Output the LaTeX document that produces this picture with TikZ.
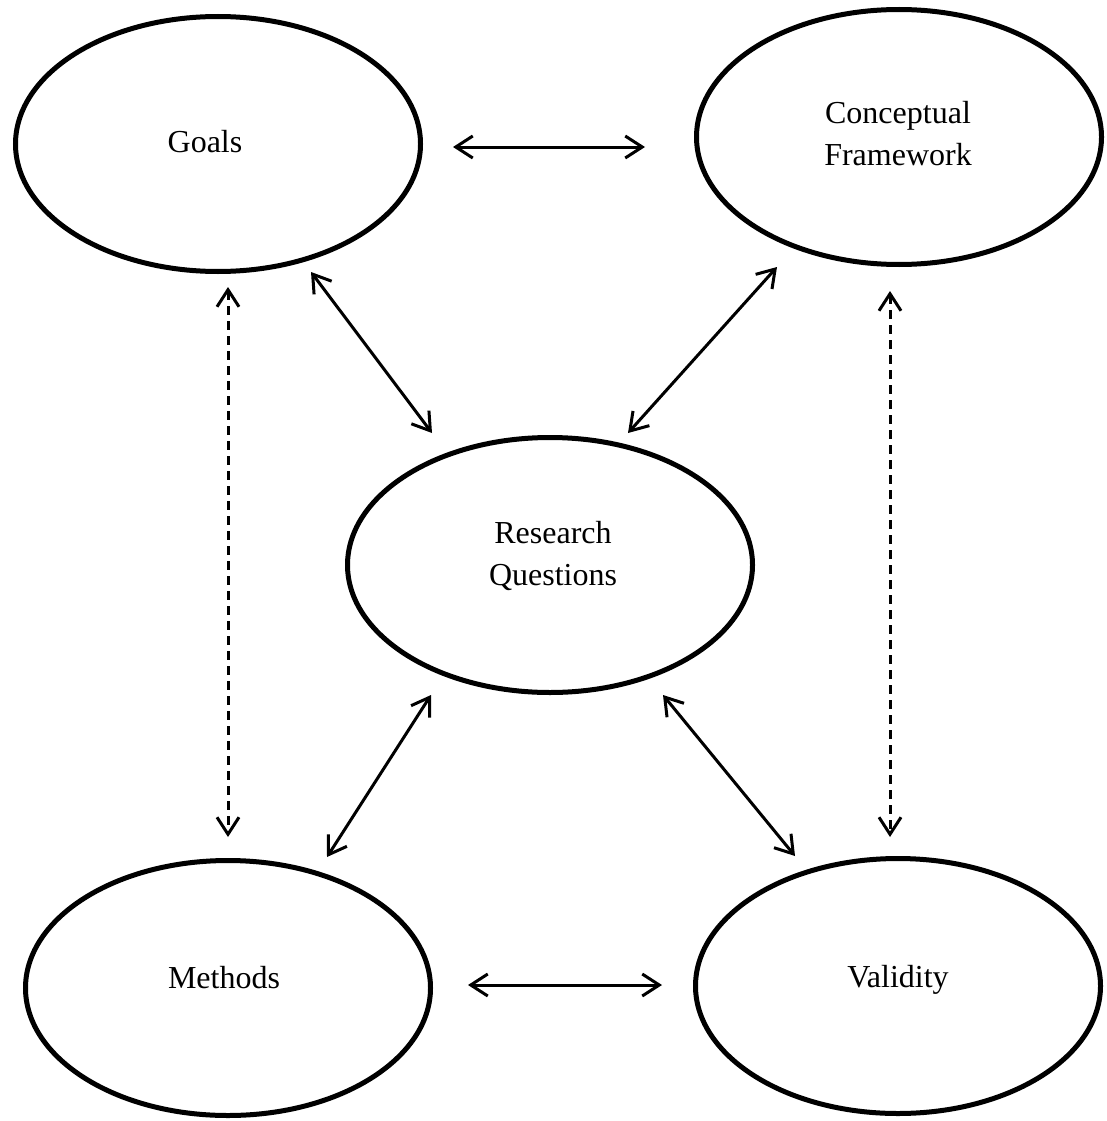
\documentclass[tikz,border=0pt]{standalone}
\usepackage{fontspec}
\setmainfont{Liberation Serif}
\usetikzlibrary{shapes.geometric,arrows.meta}
\begin{document}
\begin{tikzpicture}[x=1pt,y=-1pt,
  oval/.style={ellipse,draw,line width=5pt,minimum width=405pt,minimum height=255pt,inner sep=0pt},
  lbl/.style={font=\fontsize{32}{42}\selectfont,align=center,inner sep=0pt},
  link/.style={line width=3pt,{Straight Barb[length=17pt,width=22pt]}-{Straight Barb[length=17pt,width=22pt]}},
  dlink/.style={link,dash pattern=on 9pt off 6pt}]
\useasboundingbox (0,0) rectangle (1107,1121);
% ellipses
\node[oval] (goals) at (218,144) {};
\node[oval] (cf) at (899,137) {};
\node[oval] (rq) at (550,565) {};
\node[oval] (methods) at (228,988) {};
\node[oval] (validity) at (898,986) {};
% labels
\node[lbl] (goalsT) at (205,142) {Goals};
\node[lbl] (cfT) at (898,134) {Conceptual\\Framework};
\node[lbl] (rqT) at (553,556) {Research\\Questions};
\node[lbl] (methodsT) at (224,978) {Methods};
\node[lbl] (validityT) at (898,980) {Validity};
% arrow end points
\coordinate (gc1) at (453,147);
\coordinate (gc2) at (645,147);
\coordinate (mv1) at (468,985);
\coordinate (mv2) at (662,985);
\coordinate (gm1) at (228,287);
\coordinate (gm2) at (228,837);
\coordinate (cv1) at (890,291);
\coordinate (cv2) at (890,837);
\coordinate (gr1) at (311,272);
\coordinate (gr2) at (432,433);
\coordinate (cr1) at (777,267);
\coordinate (cr2) at (628,433);
\coordinate (mr1) at (327,857);
\coordinate (mr2) at (431,695);
\coordinate (rv1) at (663,695);
\coordinate (rv2) at (795,856);
% connectors
\draw[link] (gc1) -- (gc2);
\draw[link] (mv1) -- (mv2);
\draw[dlink] (gm1) -- (gm2);
\draw[dlink] (cv1) -- (cv2);
\draw[link] (gr1) -- (gr2);
\draw[link] (cr1) -- (cr2);
\draw[link] (mr1) -- (mr2);
\draw[link] (rv1) -- (rv2);
\end{tikzpicture}
\end{document}
